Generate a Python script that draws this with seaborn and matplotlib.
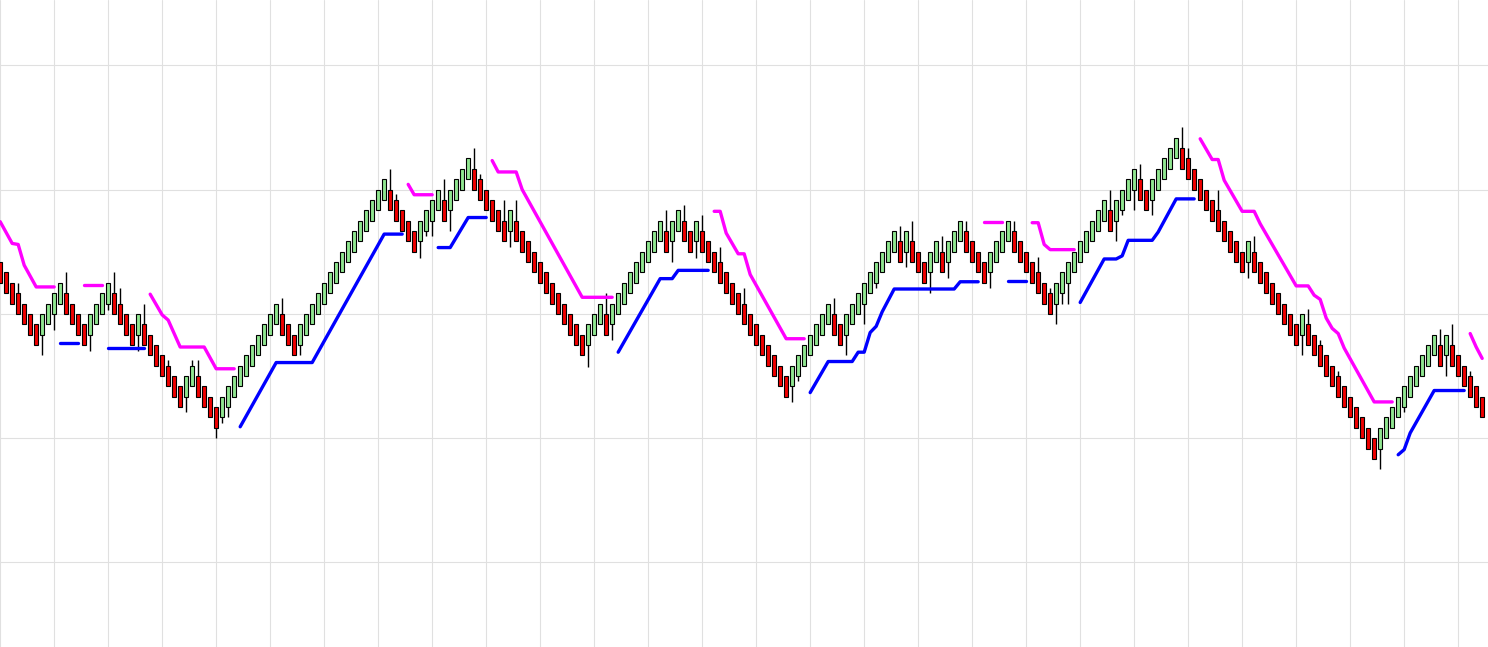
import numpy as np
import pandas as pd
import matplotlib
matplotlib.use("Agg")
import matplotlib.pyplot as plt
import seaborn as sns

# closing level of every brick-style candle (in brick units), left to right
closes = [
    27, 26, 25, 24, 23, 22, 21, 24, 25, 26, 27,
    24, 23, 22, 21, 24, 25, 26, 27, 24, 23,
    22, 21, 24, 21, 20, 19, 18, 17, 16, 15,
    18, 19, 16, 15, 14, 13, 16, 17, 18, 19, 20,
    21, 22, 23, 24, 25, 22, 21, 20,
    23, 24, 25, 26, 27, 28, 29, 30, 31, 32, 33, 34, 35, 36, 37,
    34, 33, 32, 31, 30,
    33, 34, 35, 36,
    33,
    36, 37, 38, 39,
    36, 35, 34, 33, 32, 31,
    34,
    31, 30, 29, 28, 27, 26, 25, 24, 23, 22, 21, 20,
    23, 24, 25,
    22,
    25, 26, 27, 28, 29, 30, 31, 32, 33,
    30,
    33, 34,
    31, 30,
    33,
    30, 29, 28, 27, 26, 25, 24, 23, 22, 21, 20, 19, 18, 17, 16,
    19, 20, 21, 22, 23, 24, 25,
    22, 21,
    24, 25, 26, 27, 28, 29, 30, 31, 32,
    29,
    32,
    29, 28, 27,
    30, 31,
    28,
    31, 32, 33,
    30, 29, 28, 27,
    30, 31, 32, 33,
    30, 29, 28, 27, 26, 25, 24,
    27, 28, 29, 30, 31, 32, 33, 34, 35,
    32,
    35, 36, 37, 38,
    35, 34,
    37, 38, 39, 40, 41,
    38, 37, 36, 35, 34, 33, 32, 31, 30, 29, 28,
    31,
    28, 27, 26, 25, 24, 23, 22, 21,
    24,
    21, 20, 19, 18, 17, 16, 15, 14, 13, 12, 11, 10,
    13, 14, 15, 16, 17, 18, 19, 20, 21, 22,
    19,
    22,
    19, 18, 17, 16, 15, 14,
]

# wick tips, only for the candles that have one
upper_wicks = {3: 27, 11: 28, 19: 28, 20: 26.5, 24: 25, 28: 19.5, 32: 19.5, 33: 19.5,
               47: 25.5, 65: 38, 66: 35.6, 74: 37, 79: 40, 80: 37.5, 84: 35, 86: 35,
               101: 26, 111: 34, 114: 34.5, 117: 33.5, 120: 30.5, 124: 26.5, 139: 25.5,
               150: 32.5, 152: 33, 157: 31.5, 161: 33, 169: 33, 173: 29.5, 175: 26.5,
               185: 36, 190: 38.5, 197: 42, 198: 40, 203: 36, 209: 31.5, 218: 24.5,
               220: 21.5, 223: 18.5, 240: 22.5, 242: 23, 245: 18.5}
lower_wicks = {7: 20, 9: 22.4, 15: 20.4, 18: 24.4, 23: 20.4, 31: 14.5, 36: 12, 37: 13.5,
               38: 14, 50: 20, 70: 29.4, 71: 31.5, 72: 31.5, 75: 32, 85: 30.5, 98: 18.9,
               102: 21.5, 112: 29, 116: 29.4, 132: 15.5, 133: 17.5, 141: 20, 144: 23,
               146: 26.5, 151: 28.5, 155: 26, 158: 27.5, 165: 26.5, 176: 23, 177: 25,
               178: 25, 186: 31, 187: 33.5, 189: 34, 192: 33.5, 208: 27.5, 217: 20,
               230: 9, 234: 14.5, 241: 18}

# upper (magenta) and lower (blue) stop lines: vertices (candle, level) per segment
upper_segments = [
    [(0, 32.9), (2, 30.8), (3, 30.7), (4, 28.7), (6, 26.6), (9, 26.6)],
    [(14, 26.8), (17, 26.8)],
    [(25, 25.9), (27, 23.9), (28, 23.4), (30, 20.8), (34, 20.8), (36, 18.7), (39, 18.7)],
    [(68, 36.5), (69, 35.5), (72, 35.5)],
    [(82, 38.8), (83, 37.7), (86, 37.7), (87, 36.0), (97, 25.6), (102, 25.6)],
    [(119, 33.9), (120, 33.9), (121, 31.8), (123, 29.8), (124, 29.8), (125, 27.8),
     (131, 21.6), (134, 21.6)],
    [(164, 32.9), (167, 32.9)],
    [(172, 32.8), (173, 32.8), (174, 30.7), (175, 30.2), (179, 30.2)],
    [(200, 40.9), (202, 38.9), (203, 38.9), (204, 36.9), (207, 33.9), (209, 33.9),
     (210, 32.7), (216, 26.7), (218, 26.7), (219, 25.8), (220, 25.4), (221, 23.6),
     (222, 22.6), (223, 22.1), (224, 20.7), (229, 15.5), (232, 15.5)],
    [(245, 22.1), (246, 20.8), (247, 19.7)],
]
lower_segments = [
    [(10, 21.2), (13, 21.2)],
    [(18, 20.7), (24, 20.7)],
    [(40, 13.1), (46, 19.3), (52, 19.3), (64, 31.7), (67, 31.7)],
    [(73, 30.4), (75, 30.4), (78, 33.3), (81, 33.3)],
    [(103, 20.3), (110, 27.4), (112, 27.4), (113, 28.2), (118, 28.2)],
    [(135, 16.4), (138, 19.4), (142, 19.4), (143, 20.3), (144, 20.3), (145, 22.2),
     (146, 22.8), (147, 24.2), (149, 26.4), (159, 26.4), (160, 27.1), (163, 27.1)],
    [(168, 27.2), (171, 27.2)],
    [(180, 25.1), (184, 29.3), (186, 29.3), (187, 29.6), (188, 31.1), (192, 31.1),
     (193, 31.9), (196, 35.1), (199, 35.1)],
    [(233, 10.4), (234, 10.9), (235, 12.5), (239, 16.6), (244, 16.6)],
]

brick = 2  # body height in units

closes = np.array(closes, dtype=float)
idx = np.arange(len(closes))
rising = np.r_[False, np.diff(closes) > 0]
opens = np.where(rising, closes - brick, closes + brick)
body_low = np.minimum(opens, closes)

sns.set_style("white")
fig = plt.figure(figsize=(14.88, 6.47), dpi=100)
ax = fig.add_axes([0, 0, 1, 1])

# wicks
for i, hi in upper_wicks.items():
    ax.vlines(i, max(opens[i], closes[i]), hi, color="black", lw=1.0, zorder=2)
for i, lo in lower_wicks.items():
    ax.vlines(i, lo, min(opens[i], closes[i]), color="black", lw=1.0, zorder=2)

# bodies
colors = np.where(rising, "#90e690", "#f00000")
ax.bar(idx, brick, bottom=body_low, width=0.62, color=colors,
       edgecolor="black", linewidth=0.8, zorder=3)

# stop lines
def seg_frame(segments):
    rows = []
    for k, seg in enumerate(segments):
        for x, y in seg:
            rows.append({"seg": k, "x": x, "y": y})
    return pd.DataFrame(rows)

sns.lineplot(data=seg_frame(upper_segments), x="x", y="y", units="seg",
             estimator=None, color="#ff00ff", lw=2.4, ax=ax, zorder=4)
sns.lineplot(data=seg_frame(lower_segments), x="x", y="y", units="seg",
             estimator=None, color="#0000ff", lw=2.4, ax=ax, zorder=4)

ax.set_xlim(-0.03, 247.97)
ax.set_ylim(-8.16, 54.3)
ax.set_xticks(np.arange(0, 248, 9))
ax.set_yticks(np.arange(0, 54, 12))
ax.grid(True, color="#e0e0e0", lw=0.8)
ax.set_axisbelow(True)
ax.tick_params(length=0, labelbottom=False, labelleft=False)
ax.set_xlabel("")
ax.set_ylabel("")
for s in ax.spines.values():
    s.set_visible(False)

fig.savefig("out.png", dpi=100)
